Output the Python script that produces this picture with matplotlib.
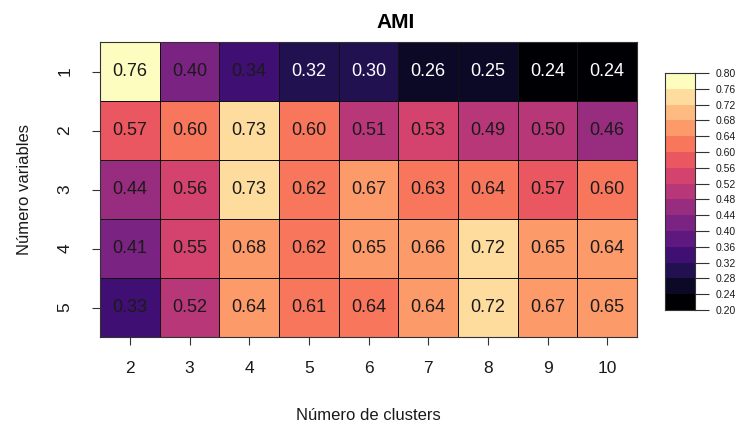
import numpy as np
import matplotlib
matplotlib.use("Agg")
import matplotlib.pyplot as plt
from matplotlib.colors import ListedColormap, BoundaryNorm

plt.rcParams['font.family'] = ['Liberation Sans', 'DejaVu Sans']

clusters = [2, 3, 4, 5, 6, 7, 8, 9, 10]
variables = [1, 2, 3, 4, 5]
ami = [
    [0.76, 0.40, 0.34, 0.318, 0.30, 0.26, 0.25, 0.238, 0.238],
    [0.57, 0.60, 0.73, 0.60, 0.51, 0.53, 0.49, 0.50, 0.46],
    [0.44, 0.558, 0.73, 0.62, 0.67, 0.63, 0.638, 0.57, 0.60],
    [0.41, 0.55, 0.678, 0.62, 0.65, 0.66, 0.72, 0.65, 0.64],
    [0.33, 0.518, 0.64, 0.61, 0.638, 0.64, 0.72, 0.67, 0.65],
]
breaks = np.round(np.arange(0.20, 0.8001, 0.04), 2)

data = np.array(ami)
colors = plt.get_cmap('magma')(np.linspace(0, 1, len(breaks) - 1))
cmap = ListedColormap(colors)
norm = BoundaryNorm(breaks, cmap.N)

fig = plt.figure(figsize=(7.41, 4.26), dpi=100)
ax = fig.add_axes([100/741, 1-337/426, 537/741, 295/426])
ax.pcolormesh(np.arange(len(clusters)+1), np.arange(len(variables)+1), data,
              cmap=cmap, norm=norm, edgecolors='#111111', linewidth=0.6)
ax.set_xlim(0, len(clusters))
ax.set_ylim(len(variables), 0)
for i in range(len(variables)):
    for j in range(len(clusters)):
        v = data[i, j]
        ax.text(j + 0.5, i + 0.5, f"{v:.2f}", ha='center', va='center',
                fontsize=13, color='white' if v < 0.32 else '#1a1a1a')
ax.set_xticks(np.arange(len(clusters)) + 0.5)
ax.set_xticklabels([str(c) for c in clusters])
ax.set_yticks(np.arange(len(variables)) + 0.5)
ax.set_yticklabels([str(v) for v in variables], rotation=90, va='center')
ax.tick_params(axis='x', length=6, width=0.8, pad=11, labelsize=12.5, color='#333333', labelcolor='#1a1a1a')
ax.tick_params(axis='y', length=6, width=0.8, pad=14, labelsize=12.5, color='#333333', labelcolor='#1a1a1a')
for s in ax.spines.values():
    s.set_linewidth(0.8)
    s.set_color('#333333')
ax.set_xlabel("Número de clusters", fontsize=12, labelpad=23, color='#1a1a1a')
ax.set_ylabel("Número variables", fontsize=12, labelpad=18, color='#1a1a1a')
fig.text(396/741, 1-22/426, "AMI", ha='center', va='center', fontsize=15, fontweight='bold')

cax = fig.add_axes([665/741, 1-310/426, 30/741, 237/426])
cax.pcolormesh([0, 1], breaks, np.array(breaks[:-1]).reshape(-1, 1) + 0.001,
               cmap=cmap, norm=norm, edgecolors='none')
cax.set_xlim(0, 1)
cax.set_ylim(breaks[0], breaks[-1])
cax.set_xticks([])
cax.yaxis.tick_right()
cax.set_yticks(breaks)
cax.set_yticklabels([f"{b:.2f}" for b in breaks])
cax.tick_params(axis='y', length=10, width=0.8, pad=5, labelsize=7.5, color='#333333', labelcolor='#1a1a1a')
for s in cax.spines.values():
    s.set_linewidth(0.8)
    s.set_color('#333333')

fig.savefig("out.png", dpi=100)
